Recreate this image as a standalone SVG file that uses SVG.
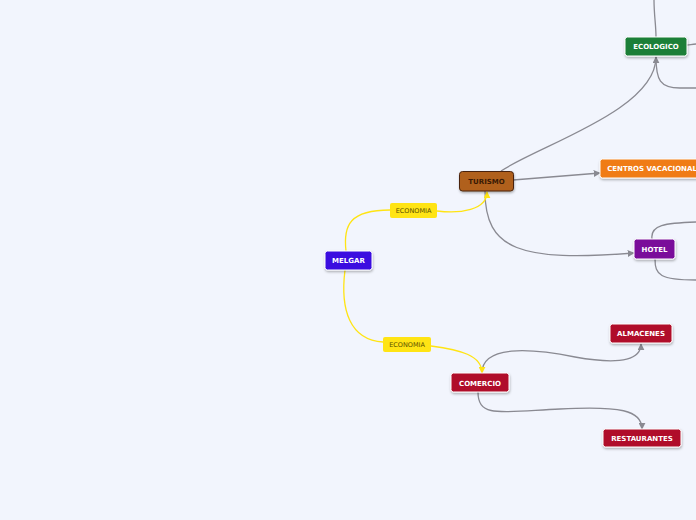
<svg xmlns="http://www.w3.org/2000/svg" width="696" height="520" viewBox="0 0 696 520">
<style>
.bg{fill:#f2f5fd}
.c{fill:none;stroke:#8a8a92;stroke-width:1.3}
.y{fill:none;stroke:#ffe414;stroke-width:1.3}
.n{stroke:#ffffff;stroke-width:1;filter:url(#sh)}
.t{font-family:"DejaVu Sans",Verdana,sans-serif;font-size:7px;font-weight:bold;fill:#ffffff;text-anchor:middle}
.e{font-family:"DejaVu Sans",Verdana,sans-serif;font-size:6.5px;fill:#5a5000;text-anchor:middle}
</style>
<defs>
<filter id="sh" x="-20%" y="-30%" width="140%" height="170%"><feDropShadow dx="0.5" dy="1.5" stdDeviation="0.8" flood-color="#000" flood-opacity="0.3"/></filter>
<marker id="a" viewBox="0 0 10 10" refX="9" refY="5" markerWidth="7" markerHeight="7" markerUnits="userSpaceOnUse" orient="auto"><path d="M0,0 L10,5 L0,10 z" fill="#8a8a92"/></marker>
<marker id="ay" viewBox="0 0 10 10" refX="9" refY="5" markerWidth="7" markerHeight="7" markerUnits="userSpaceOnUse" orient="auto"><path d="M0,0 L10,5 L0,10 z" fill="#ffe414"/></marker>
</defs>
<rect class="bg" x="0" y="0" width="696" height="520"/>
<g id="connectors">
<path class="c" d="M654,0 C654,15 656,25 656,37"/>
<path class="c" d="M687,45 C690,45 692,44 696,44"/>
<path class="c" d="M656,57 C656,80 660,88 680,88 L696,88"/>
<path class="c" d="M501,171 C540,145 656,110 656,57" marker-end="url(#a)"/>
<path class="c" d="M513,180 C550,177 575,175 600,173" marker-end="url(#a)"/>
<path class="c" d="M485,191 C485,250 520,262 634,253" marker-end="url(#a)"/>
<path class="c" d="M652,239 C650,225 665,223 696,222"/>
<path class="c" d="M655,259 C655,275 660,280 696,280"/>
<path class="c" d="M482,373 C482,345 530,348 575,357 C625,366 641,358 641,344" marker-end="url(#a)"/>
<path class="c" d="M478,392 C478,418 500,412 560,409 C620,406 642,410 642,429" marker-end="url(#a)"/>
<path class="y" d="M346,251 C343,225 350,210 390,210"/>
<path class="y" d="M437,211 C460,214 487,210 487,192" marker-end="url(#ay)"/>
<path class="y" d="M345,270 C340,310 350,340 383,342"/>
<path class="y" d="M431,346 C460,350 482,355 482,373" marker-end="url(#ay)"/>
</g>
<g id="ecologico"><rect class="n" x="625" y="37" width="62" height="19" rx="2.5" fill="#1a7f37"/><text class="t" x="656" y="49">ECOLOGICO</text></g>
<g id="turismo"><rect x="459.5" y="171.5" width="54" height="19.5" rx="3" fill="#b0601f" stroke="#4a2208" stroke-width="1" filter="url(#sh)"/><text class="t" x="486.5" y="184" fill="#3a1a05" style="fill:#3a1a05">TURISMO</text></g>
<g id="centros"><rect class="n" x="600" y="159" width="110" height="19" rx="2.5" fill="#f07c12"/><text class="t" x="652" y="171">CENTROS VACACIONAL</text></g>
<g id="economia1"><rect x="390" y="203" width="47" height="15" rx="2" fill="#ffe414"/><text class="e" x="413.5" y="213">ECONOMIA</text></g>
<g id="melgar"><rect class="n" x="325" y="251" width="47" height="19" rx="2.5" fill="#3a10e0"/><text class="t" x="348.5" y="263">MELGAR</text></g>
<g id="economia2"><rect x="383" y="337" width="48" height="15" rx="2" fill="#ffe414"/><text class="e" x="407" y="347">ECONOMIA</text></g>
<g id="comercio"><rect class="n" x="451" y="373" width="58" height="19" rx="2.5" fill="#b0102a"/><text class="t" x="480" y="385.5">COMERCIO</text></g>
<g id="hotel"><rect class="n" x="634" y="239" width="41" height="20" rx="2.5" fill="#7a0e9a"/><text class="t" x="654.5" y="251.5">HOTEL</text></g>
<g id="almacenes"><rect class="n" x="610" y="324" width="62" height="19" rx="2.5" fill="#b0102a"/><text class="t" x="641" y="336">ALMACENES</text></g>
<g id="restaurantes"><rect class="n" x="603" y="429" width="78" height="18" rx="2.5" fill="#b0102a"/><text class="t" x="642" y="441">RESTAURANTES</text></g>
</svg>
